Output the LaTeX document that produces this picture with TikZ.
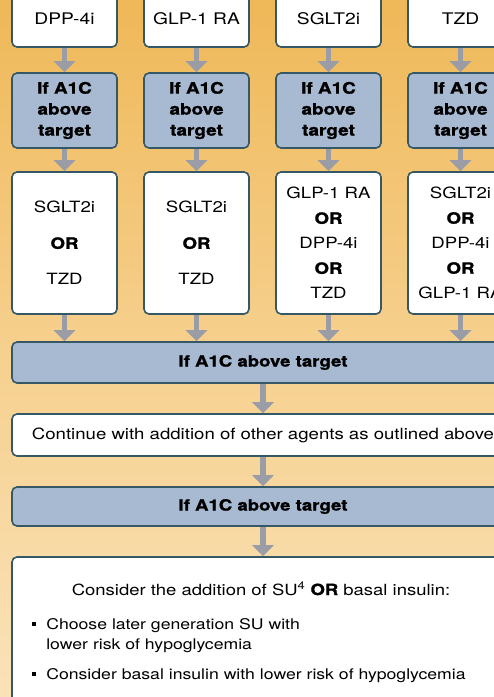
\documentclass[tikz,border=0pt]{standalone}
\usepackage{fontspec}
\setmainfont{TeX Gyre Heros}[FakeStretch=1.2, BoldFeatures={FakeBold=1.3}]
\usetikzlibrary{arrows.meta,positioning,calc}

\definecolor{boxline}{RGB}{52,88,102}
\definecolor{checkblue}{RGB}{168,186,210}
\definecolor{arrowgray}{RGB}{154,157,166}
\definecolor{bgA}{RGB}{251,234,205}
\definecolor{bgB}{RGB}{250,226,184}
\definecolor{bgC}{RGB}{246,208,142}
\definecolor{bgD}{RGB}{239,184,88}
\definecolor{bgE}{RGB}{233,166,58}
% background runs from orange at the top to cream at the bottom
\pgfdeclareverticalshading{bgshade}{100bp}{%
  color(0bp)=(bgA); color(25bp)=(bgB); color(50bp)=(bgC);
  color(75bp)=(bgD); color(100bp)=(bgE)}

\newcommand{\sqb}{\rule[0.22em]{0.28em}{0.28em}}

\tikzset{
  drugbox/.style={draw=boxline, line width=1.6pt, fill=white, rounded corners=5pt,
    minimum width=105pt, inner sep=0pt, align=center, font=\fontsize{16}{20}\selectfont},
  checkbox/.style={drugbox, fill=checkblue, font=\bfseries\fontsize{15.8}{21}\selectfont},
  widebox/.style={drugbox, minimum width=502pt},
  flowarrow/.style={draw=arrowgray, line width=5.5pt, -{Triangle[length=11pt,width=21pt]}},
}

\begin{document}
\begin{tikzpicture}[x=1pt,y=-1pt]
  % page and background
  \useasboundingbox (0,0) rectangle (494,697);
  \shade[shading=bgshade] (0,0) rectangle (494,697);

  % first two rows, one column per drug
  \foreach \i/\drug [evaluate=\i as \cx using 64.5+132*(\i-1)] in
      {1/DPP-4i, 2/GLP-1 RA, 3/SGLT2i, 4/TZD}
  {
    \node[drugbox, minimum height=56pt] (top\i) at (\cx,19) {\drug};
    \node[checkbox, minimum height=75pt] (chk\i) at (\cx,110.5) {If A1C\\above\\target};
    \draw[flowarrow] (top\i.south) -- (chk\i.north);
  }

  % third row: the added agents
  \node[drugbox, minimum height=142pt, font=\fontsize{15.5}{36}\selectfont] (add1) at (64.5,243)
    {SGLT2i\\\textbf{OR}\\TZD};
  \node[drugbox, minimum height=142pt, font=\fontsize{15.5}{36}\selectfont] (add2) at (196.5,243)
    {SGLT2i\\\textbf{OR}\\TZD};
  \node[drugbox, minimum height=142pt, font=\fontsize{15.5}{25}\selectfont] (add3) at (328.5,243)
    {GLP-1 RA\\\textbf{OR}\\DPP-4i\\\textbf{OR}\\TZD};
  \node[drugbox, minimum height=142pt, font=\fontsize{15.5}{25}\selectfont] (add4) at (460.5,243)
    {SGLT2i\\\textbf{OR}\\DPP-4i\\\textbf{OR}\\GLP-1 RA};

  % wide rows
  \node[widebox, checkbox, minimum width=502pt, minimum height=41pt, font=\bfseries\fontsize{15.5}{20}\selectfont]
    (chkA) at (263,362.5) {If A1C above target};
  \node[widebox, minimum height=42pt, font=\fontsize{15.5}{20}\selectfont]
    (cont) at (263,435) {Continue with addition of other agents as outlined above};
  \node[widebox, checkbox, minimum width=502pt, minimum height=39pt, font=\bfseries\fontsize{15.5}{20}\selectfont]
    (chkB) at (263,506.5) {If A1C above target};
  \node[widebox, minimum height=166pt] (last) at (263,640) {};

  % text of the last box
  \node[anchor=base, font=\fontsize{15.4}{20}\selectfont] (sutext) at (261,595)
    {Consider the addition of SU\textsuperscript{4} \textbf{OR} basal insulin:};
  \node[anchor=north west, inner sep=0pt, font=\fontsize{14.7}{20}\selectfont, align=left] (bullets) at (32,615)
    {\begin{tabular}{@{}l@{\hspace{10pt}}l@{}}
      \sqb & Choose later generation SU with\\
           & lower risk of hypoglycemia\\[10pt]
      \sqb & Consider basal insulin with lower risk of hypoglycemia
    \end{tabular}};

  % arrows between rows
  \foreach \i in {1,2,3,4}
  {
    \draw[flowarrow] (chk\i.south) -- (add\i.north);
    \draw[flowarrow] (add\i.south) -- (add\i.south |- chkA.north);
  }
  \draw[flowarrow] (chkA.south) -- (cont.north);
  \draw[flowarrow] (cont.south) -- (chkB.north);
  \draw[flowarrow] (chkB.south) -- (last.north);
\end{tikzpicture}
\end{document}
